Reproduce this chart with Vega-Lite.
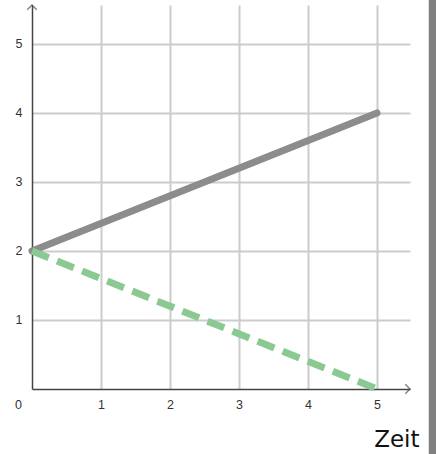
{
  "$schema": "https://vega.github.io/schema/vega-lite/v6.json",
  "autosize": {"type": "none"},
  "padding": {"left": 32, "top": 5, "right": 26, "bottom": 65},
  "width": 378,
  "height": 384,
  "background": "white",
  "config": {"view": {"stroke": null}, "font": "Liberation Sans"},
  "datasets": {
    "lines": [
      {"t": 0, "v": 2, "s": "A"}, {"t": 5, "v": 4, "s": "A"},
      {"t": 0, "v": 2, "s": "B"}, {"t": 5, "v": 0, "s": "B"}
    ],
    "arrows": [
      {"x": 5.478, "y": 0, "dir": "right"},
      {"x": 0, "y": 5.565, "dir": "up"}
    ],
    "zero": [{"x": 0, "y": 0, "label": "0"}],
    "bar": [{"x": 5.75, "x2": 5.86, "y": 5.7, "y2": -1.0}]
  },
  "layer": [
    {
      "data": {"name": "lines"},
      "transform": [{"filter": "datum.s === 'A'"}],
      "mark": {"type": "line", "strokeWidth": 7, "strokeCap": "round", "color": "#8c8c8c", "clip": false},
      "encoding": {
        "x": {"field": "t", "type": "quantitative", "scale": {"domain": [0, 5.478], "nice": false, "zero": false},
          "axis": {"values": [1, 2, 3, 4, 5], "format": "d", "grid": true, "gridColor": "#cccccc", "gridWidth": 2, "ticks": false,
            "domainColor": "#444444", "domainWidth": 1.5, "labelFontSize": 12.5, "labelColor": "#333333", "labelPadding": 9,
            "title": "Zeit", "titleAnchor": "end", "titleAlign": "right", "titleBaseline": "alphabetic", "titleX": 387, "titleY": 57,
            "titleFontSize": 23, "titleFontWeight": "normal", "titleColor": "#111111", "titleFont": "DejaVu Sans"}},
        "y": {"field": "v", "type": "quantitative", "scale": {"domain": [0, 5.565], "nice": false, "zero": false},
          "axis": {"values": [1, 2, 3, 4, 5], "format": "d", "grid": true, "gridColor": "#cccccc", "gridWidth": 2, "ticks": false,
            "domainColor": "#444444", "domainWidth": 1.5, "labelFontSize": 12.5, "labelColor": "#333333", "labelPadding": 10, "title": null}},
        "order": {"field": "t"}
      }
    },
    {
      "data": {"name": "lines"},
      "transform": [{"filter": "datum.s === 'B'"}],
      "mark": {"type": "line", "strokeWidth": 7, "strokeCap": "butt", "strokeDash": [18, 9], "color": "#8bc993", "clip": false},
      "encoding": {
        "x": {"field": "t", "type": "quantitative"},
        "y": {"field": "v", "type": "quantitative"},
        "order": {"field": "t"}
      }
    },
    {
      "data": {"name": "arrows"},
      "transform": [{"filter": "datum.dir === 'right'"}],
      "mark": {"type": "point", "shape": "M-1,-1L0,0L-1,1", "filled": false, "stroke": "#444444", "strokeWidth": 1.3, "size": 90, "clip": false},
      "encoding": {"x": {"field": "x", "type": "quantitative"}, "y": {"field": "y", "type": "quantitative"}}
    },
    {
      "data": {"name": "arrows"},
      "transform": [{"filter": "datum.dir === 'up'"}],
      "mark": {"type": "point", "shape": "M-1,1L0,0L1,1", "filled": false, "stroke": "#444444", "strokeWidth": 1.3, "size": 90, "clip": false},
      "encoding": {"x": {"field": "x", "type": "quantitative"}, "y": {"field": "y", "type": "quantitative"}}
    },
    {
      "data": {"name": "zero"},
      "mark": {"type": "text", "fontSize": 12.5, "color": "#333333", "dx": -13.5, "dy": 16, "align": "center", "baseline": "middle"},
      "encoding": {"x": {"field": "x", "type": "quantitative"}, "y": {"field": "y", "type": "quantitative"}, "text": {"field": "label"}}
    },
    {
      "data": {"name": "bar"},
      "mark": {"type": "rect", "color": "#808080", "clip": false},
      "encoding": {"x": {"field": "x", "type": "quantitative"}, "x2": {"field": "x2"}, "y": {"field": "y", "type": "quantitative"}, "y2": {"field": "y2"}}
    }
  ]
}
